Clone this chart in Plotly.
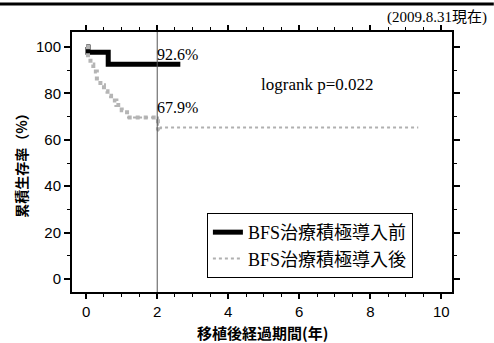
import plotly.graph_objects as go

before_x = [0, 0.05, 0.62, 2.65]
before_y = [100, 97.8, 92.6, 92.6]
after_x = [0, 0.05, 0.12, 0.2, 0.3, 0.4, 0.5, 0.6, 0.7, 0.85, 1.0, 1.15, 2.02, 2.1, 9.35]
after_y = [100, 95.5, 92.5, 89.5, 86.5, 83.5, 81.0, 79.0, 77.0, 75.0, 72.8, 69.6, 64.0, 65.3, 65.3]
names = ["BFS治療積極導入前", "BFS治療積極導入後"]

serif = "Liberation Serif, Noto Sans CJK JP"
sans = "Liberation Sans, Noto Sans CJK JP"
gothic = "Noto Sans CJK JP"

fig = go.Figure()
fig.add_trace(go.Scatter(x=before_x, y=before_y, mode="lines", line_shape="hv",
                         line=dict(color="black", width=5), name=names[0]))
# early (thick) part of the post-intervention curve
fig.add_trace(go.Scatter(x=after_x[:13], y=after_y[:13], mode="lines", line_shape="hv",
                         line=dict(color="#b5b5b5", width=4, dash="dot"), showlegend=False))
fig.add_trace(go.Scatter(x=after_x[11:], y=after_y[11:], mode="lines", line_shape="hv",
                         line=dict(color="#b0b0b0", width=2, dash="dot"), name=names[1]))

fig.add_vline(x=2, line=dict(color="#555555", width=1))

fig.add_annotation(x=2, y=92.6, xref="x", yref="y", text="92.6%", showarrow=False,
                   xanchor="left", yanchor="bottom", xshift=-2, yshift=-1,
                   font=dict(family=serif, size=16, color="black"))
fig.add_annotation(x=2, y=67.9, xref="x", yref="y", text="67.9%", showarrow=False,
                   xanchor="left", yanchor="bottom", xshift=-2, yshift=4,
                   font=dict(family=serif, size=16, color="black"))
fig.add_annotation(x=6.5, y=84, xref="x", yref="y", text="logrank p=0.022", showarrow=False,
                   xanchor="center", yanchor="middle", font=dict(family=serif, size=17, color="black"))
fig.add_annotation(x=1.097, y=1.057, xref="paper", yref="paper", text="(2009.8.31現在)", showarrow=False,
                   xanchor="right", yanchor="middle",
                   font=dict(family=serif, size=15, color="black"))
fig.add_annotation(x=0.5, y=-0.155, xref="paper", yref="paper", text="<b>移植後経過期間(年)</b>",
                   showarrow=False, xanchor="center", yanchor="middle",
                   font=dict(family=gothic, size=15, color="black"))
fig.add_annotation(x=-0.135, y=0.5, xref="paper", yref="paper", text="<b>累積生存率（%）</b>",
                   showarrow=False, xanchor="center", yanchor="middle", textangle=-90,
                   font=dict(family=gothic, size=14, color="black"))
fig.add_shape(type="line", xref="paper", yref="paper", x0=-0.19, x1=1.11, y0=1.108, y1=1.108,
              line=dict(color="black", width=3))

fig.update_layout(
    width=494, height=343,
    margin=dict(l=72, r=42, t=32, b=51),
    paper_bgcolor="white", plot_bgcolor="white",
    showlegend=True,
    legend=dict(x=0.355, y=0.304, xanchor="left", yanchor="top",
                bordercolor="black", borderwidth=1, bgcolor="white",
                font=dict(family=serif, size=18, color="black"),
                itemwidth=30, tracegroupgap=0),
    xaxis=dict(range=[-0.4, 10.3], tick0=0, dtick=2, ticks="outside", ticklen=5, tickcolor="black",
               tickwidth=1.5,
               showline=True, linecolor="black", linewidth=2, mirror="ticks",
               showgrid=False, zeroline=False, automargin=False,
               minor=dict(dtick=0.5, ticks="outside", ticklen=3, tickcolor="black", tickwidth=1.2,
                          showgrid=False),
               tickfont=dict(family=sans, size=15, color="black")),
    yaxis=dict(range=[-5.6, 106.5], tick0=0, dtick=20, ticks="outside", ticklen=6, tickcolor="black",
               tickwidth=1.5,
               showline=True, linecolor="black", linewidth=2, mirror="ticks",
               showgrid=False, zeroline=False, automargin=False,
               minor=dict(dtick=10, ticks="outside", ticklen=3, tickcolor="black", tickwidth=1.2,
                          showgrid=False),
               tickfont=dict(family=sans, size=15, color="black")),
)
fig.write_html("out.html", config={"displayModeBar": False},
               post_script="document.body.style.margin='0';document.body.style.overflow='hidden';")
